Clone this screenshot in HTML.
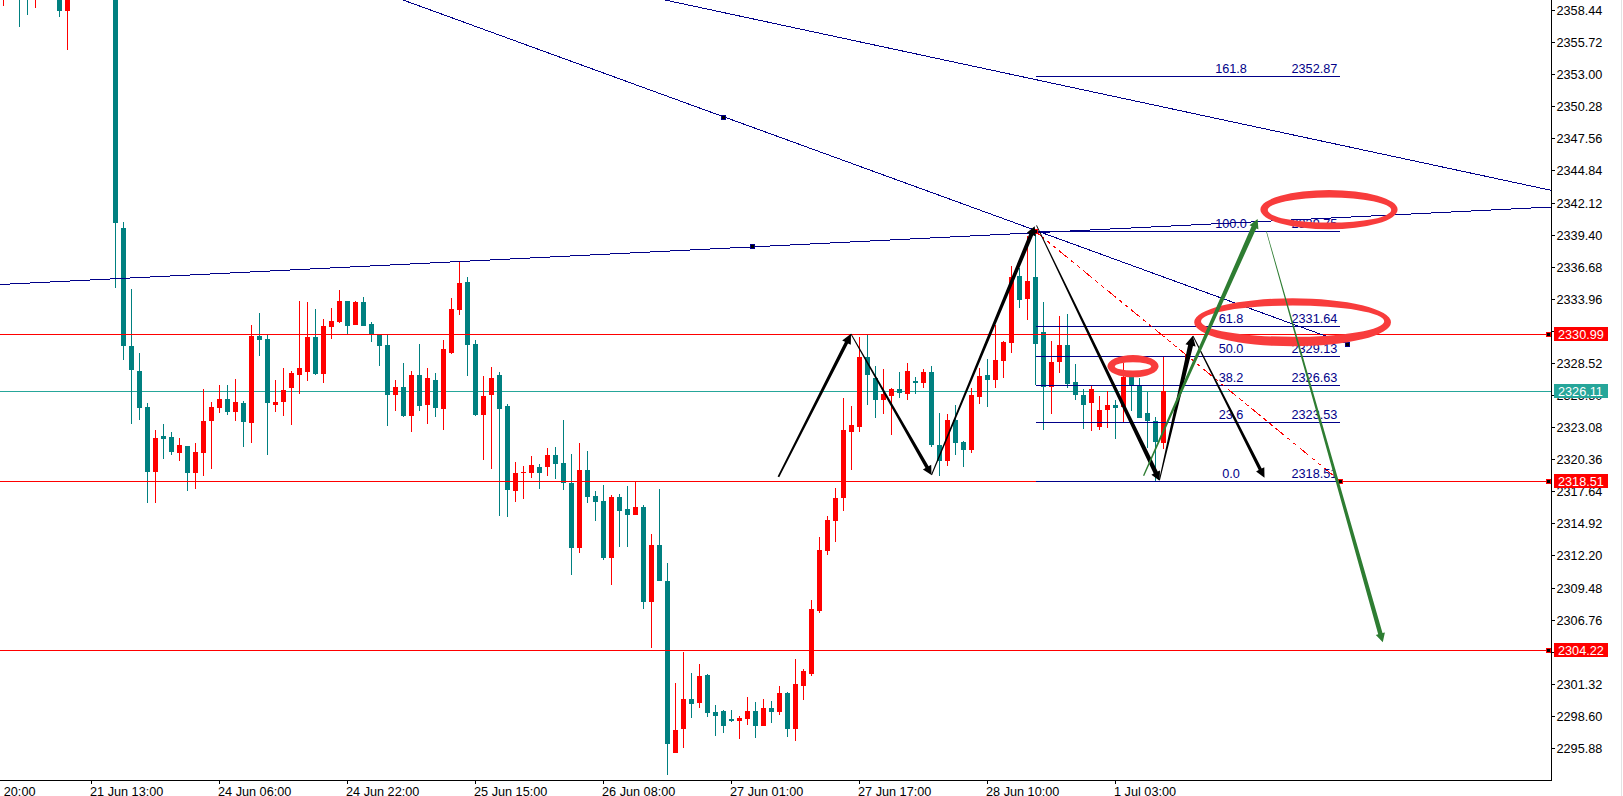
<!DOCTYPE html>
<html lang="en"><head><meta charset="utf-8"><title>Chart</title>
<style>html,body{margin:0;padding:0;background:#fff;overflow:hidden}svg{display:block}text{font-family:"Liberation Sans",Arial,sans-serif;font-size:12.7px}</style>
</head><body>
<svg width="1623" height="796" viewBox="0 0 1623 796">
<rect width="1623" height="796" fill="#fff"/>
<defs><clipPath id="plot"><rect x="0" y="0" width="1551" height="780"/></clipPath></defs>
<rect x="0" y="391" width="1551" height="1" fill="#26A69A" shape-rendering="crispEdges"/>
<g shape-rendering="crispEdges">
<rect x="3" y="-2" width="1" height="8" fill="#FF0000"/>
<rect x="19" y="-2" width="1" height="29" fill="#008080"/>
<rect x="27" y="-2" width="1" height="17" fill="#008080"/>
<rect x="35" y="-2" width="1" height="10" fill="#FF0000"/>
<rect x="59" y="-2" width="1" height="19" fill="#008080"/>
<rect x="57" y="-2" width="5" height="13" fill="#008080"/>
<rect x="67" y="-2" width="1" height="52" fill="#FF0000"/>
<rect x="65" y="-2" width="5" height="13" fill="#FF0000"/>
<rect x="115" y="-2" width="1" height="290" fill="#008080"/>
<rect x="113" y="-2" width="5" height="225" fill="#008080"/>
<rect x="123" y="222" width="1" height="138" fill="#008080"/>
<rect x="121" y="228" width="5" height="118" fill="#008080"/>
<rect x="131" y="289" width="1" height="135" fill="#008080"/>
<rect x="129" y="346" width="5" height="24" fill="#008080"/>
<rect x="139" y="353" width="1" height="67" fill="#008080"/>
<rect x="137" y="371" width="5" height="37" fill="#008080"/>
<rect x="147" y="403" width="1" height="100" fill="#008080"/>
<rect x="145" y="407" width="5" height="65" fill="#008080"/>
<rect x="155" y="430" width="1" height="73" fill="#FF0000"/>
<rect x="153" y="438" width="5" height="34" fill="#FF0000"/>
<rect x="163" y="424" width="1" height="35" fill="#008080"/>
<rect x="161" y="436" width="5" height="3" fill="#008080"/>
<rect x="171" y="432" width="1" height="23" fill="#008080"/>
<rect x="169" y="437" width="5" height="15" fill="#008080"/>
<rect x="179" y="438" width="1" height="23" fill="#FF0000"/>
<rect x="177" y="445" width="5" height="8" fill="#FF0000"/>
<rect x="187" y="446" width="1" height="45" fill="#008080"/>
<rect x="185" y="446" width="5" height="27" fill="#008080"/>
<rect x="195" y="443" width="1" height="46" fill="#FF0000"/>
<rect x="193" y="452" width="5" height="21" fill="#FF0000"/>
<rect x="203" y="389" width="1" height="87" fill="#FF0000"/>
<rect x="201" y="421" width="5" height="32" fill="#FF0000"/>
<rect x="211" y="402" width="1" height="67" fill="#FF0000"/>
<rect x="209" y="407" width="5" height="14" fill="#FF0000"/>
<rect x="219" y="385" width="1" height="28" fill="#FF0000"/>
<rect x="217" y="399" width="5" height="9" fill="#FF0000"/>
<rect x="227" y="385" width="1" height="30" fill="#008080"/>
<rect x="225" y="399" width="5" height="13" fill="#008080"/>
<rect x="235" y="379" width="1" height="42" fill="#FF0000"/>
<rect x="233" y="402" width="5" height="10" fill="#FF0000"/>
<rect x="243" y="401" width="1" height="46" fill="#008080"/>
<rect x="241" y="403" width="5" height="19" fill="#008080"/>
<rect x="251" y="325" width="1" height="118" fill="#FF0000"/>
<rect x="249" y="336" width="5" height="87" fill="#FF0000"/>
<rect x="259" y="313" width="1" height="43" fill="#008080"/>
<rect x="257" y="336" width="5" height="4" fill="#008080"/>
<rect x="267" y="335" width="1" height="120" fill="#008080"/>
<rect x="265" y="339" width="5" height="64" fill="#008080"/>
<rect x="275" y="380" width="1" height="32" fill="#FF0000"/>
<rect x="273" y="402" width="5" height="3" fill="#FF0000"/>
<rect x="283" y="368" width="1" height="48" fill="#FF0000"/>
<rect x="281" y="390" width="5" height="12" fill="#FF0000"/>
<rect x="291" y="371" width="1" height="54" fill="#FF0000"/>
<rect x="289" y="373" width="5" height="15" fill="#FF0000"/>
<rect x="299" y="301" width="1" height="93" fill="#FF0000"/>
<rect x="297" y="368" width="5" height="7" fill="#FF0000"/>
<rect x="307" y="302" width="1" height="79" fill="#FF0000"/>
<rect x="305" y="337" width="5" height="35" fill="#FF0000"/>
<rect x="315" y="309" width="1" height="66" fill="#008080"/>
<rect x="313" y="337" width="5" height="37" fill="#008080"/>
<rect x="323" y="319" width="1" height="64" fill="#FF0000"/>
<rect x="321" y="326" width="5" height="48" fill="#FF0000"/>
<rect x="331" y="308" width="1" height="31" fill="#FF0000"/>
<rect x="329" y="321" width="5" height="6" fill="#FF0000"/>
<rect x="339" y="290" width="1" height="33" fill="#FF0000"/>
<rect x="337" y="301" width="5" height="21" fill="#FF0000"/>
<rect x="347" y="301" width="1" height="33" fill="#008080"/>
<rect x="345" y="301" width="5" height="25" fill="#008080"/>
<rect x="355" y="301" width="1" height="24" fill="#FF0000"/>
<rect x="353" y="302" width="5" height="23" fill="#FF0000"/>
<rect x="363" y="297" width="1" height="29" fill="#008080"/>
<rect x="361" y="302" width="5" height="24" fill="#008080"/>
<rect x="371" y="322" width="1" height="20" fill="#008080"/>
<rect x="369" y="324" width="5" height="11" fill="#008080"/>
<rect x="379" y="335" width="1" height="31" fill="#008080"/>
<rect x="377" y="335" width="5" height="11" fill="#008080"/>
<rect x="387" y="335" width="1" height="91" fill="#008080"/>
<rect x="385" y="345" width="5" height="50" fill="#008080"/>
<rect x="395" y="380" width="1" height="31" fill="#FF0000"/>
<rect x="393" y="387" width="5" height="8" fill="#FF0000"/>
<rect x="403" y="363" width="1" height="54" fill="#008080"/>
<rect x="401" y="387" width="5" height="29" fill="#008080"/>
<rect x="411" y="371" width="1" height="61" fill="#FF0000"/>
<rect x="409" y="375" width="5" height="41" fill="#FF0000"/>
<rect x="419" y="344" width="1" height="67" fill="#008080"/>
<rect x="417" y="375" width="5" height="31" fill="#008080"/>
<rect x="427" y="368" width="1" height="56" fill="#FF0000"/>
<rect x="425" y="378" width="5" height="27" fill="#FF0000"/>
<rect x="435" y="373" width="1" height="44" fill="#008080"/>
<rect x="433" y="380" width="5" height="28" fill="#008080"/>
<rect x="443" y="340" width="1" height="90" fill="#FF0000"/>
<rect x="441" y="349" width="5" height="60" fill="#FF0000"/>
<rect x="451" y="298" width="1" height="56" fill="#FF0000"/>
<rect x="449" y="309" width="5" height="44" fill="#FF0000"/>
<rect x="459" y="262" width="1" height="53" fill="#FF0000"/>
<rect x="457" y="283" width="5" height="27" fill="#FF0000"/>
<rect x="467" y="277" width="1" height="99" fill="#008080"/>
<rect x="465" y="282" width="5" height="63" fill="#008080"/>
<rect x="475" y="340" width="1" height="76" fill="#008080"/>
<rect x="473" y="344" width="5" height="71" fill="#008080"/>
<rect x="483" y="376" width="1" height="84" fill="#FF0000"/>
<rect x="481" y="396" width="5" height="19" fill="#FF0000"/>
<rect x="491" y="367" width="1" height="102" fill="#FF0000"/>
<rect x="489" y="378" width="5" height="17" fill="#FF0000"/>
<rect x="499" y="372" width="1" height="144" fill="#008080"/>
<rect x="497" y="375" width="5" height="34" fill="#008080"/>
<rect x="507" y="404" width="1" height="113" fill="#008080"/>
<rect x="505" y="406" width="5" height="84" fill="#008080"/>
<rect x="515" y="462" width="1" height="40" fill="#FF0000"/>
<rect x="513" y="473" width="5" height="18" fill="#FF0000"/>
<rect x="523" y="466" width="1" height="33" fill="#FF0000"/>
<rect x="521" y="472" width="5" height="1" fill="#FF0000"/>
<rect x="531" y="456" width="1" height="22" fill="#FF0000"/>
<rect x="529" y="465" width="5" height="8" fill="#FF0000"/>
<rect x="539" y="464" width="1" height="25" fill="#008080"/>
<rect x="537" y="467" width="5" height="6" fill="#008080"/>
<rect x="547" y="448" width="1" height="28" fill="#FF0000"/>
<rect x="545" y="455" width="5" height="12" fill="#FF0000"/>
<rect x="555" y="447" width="1" height="32" fill="#008080"/>
<rect x="553" y="455" width="5" height="9" fill="#008080"/>
<rect x="563" y="420" width="1" height="70" fill="#008080"/>
<rect x="561" y="463" width="5" height="20" fill="#008080"/>
<rect x="571" y="454" width="1" height="121" fill="#008080"/>
<rect x="569" y="483" width="5" height="65" fill="#008080"/>
<rect x="579" y="443" width="1" height="110" fill="#FF0000"/>
<rect x="577" y="470" width="5" height="78" fill="#FF0000"/>
<rect x="587" y="451" width="1" height="52" fill="#008080"/>
<rect x="585" y="470" width="5" height="27" fill="#008080"/>
<rect x="595" y="491" width="1" height="30" fill="#008080"/>
<rect x="593" y="496" width="5" height="6" fill="#008080"/>
<rect x="603" y="485" width="1" height="75" fill="#008080"/>
<rect x="601" y="501" width="5" height="57" fill="#008080"/>
<rect x="611" y="495" width="1" height="90" fill="#FF0000"/>
<rect x="609" y="497" width="5" height="61" fill="#FF0000"/>
<rect x="619" y="494" width="1" height="53" fill="#008080"/>
<rect x="617" y="497" width="5" height="14" fill="#008080"/>
<rect x="627" y="486" width="1" height="61" fill="#008080"/>
<rect x="625" y="509" width="5" height="6" fill="#008080"/>
<rect x="635" y="481" width="1" height="34" fill="#FF0000"/>
<rect x="633" y="507" width="5" height="8" fill="#FF0000"/>
<rect x="643" y="505" width="1" height="104" fill="#008080"/>
<rect x="641" y="507" width="5" height="95" fill="#008080"/>
<rect x="651" y="534" width="1" height="114" fill="#FF0000"/>
<rect x="649" y="545" width="5" height="57" fill="#FF0000"/>
<rect x="659" y="489" width="1" height="92" fill="#008080"/>
<rect x="657" y="545" width="5" height="36" fill="#008080"/>
<rect x="667" y="563" width="1" height="212" fill="#008080"/>
<rect x="665" y="581" width="5" height="163" fill="#008080"/>
<rect x="675" y="683" width="1" height="70" fill="#FF0000"/>
<rect x="673" y="730" width="5" height="23" fill="#FF0000"/>
<rect x="683" y="652" width="1" height="96" fill="#FF0000"/>
<rect x="681" y="699" width="5" height="30" fill="#FF0000"/>
<rect x="691" y="673" width="1" height="45" fill="#008080"/>
<rect x="689" y="699" width="5" height="5" fill="#008080"/>
<rect x="699" y="664" width="1" height="44" fill="#FF0000"/>
<rect x="697" y="676" width="5" height="27" fill="#FF0000"/>
<rect x="707" y="674" width="1" height="43" fill="#008080"/>
<rect x="705" y="675" width="5" height="38" fill="#008080"/>
<rect x="715" y="705" width="1" height="31" fill="#008080"/>
<rect x="713" y="712" width="5" height="4" fill="#008080"/>
<rect x="723" y="710" width="1" height="23" fill="#008080"/>
<rect x="721" y="711" width="5" height="15" fill="#008080"/>
<rect x="731" y="710" width="1" height="12" fill="#008080"/>
<rect x="729" y="719" width="5" height="2" fill="#008080"/>
<rect x="739" y="716" width="1" height="23" fill="#FF0000"/>
<rect x="737" y="718" width="5" height="3" fill="#FF0000"/>
<rect x="747" y="697" width="1" height="28" fill="#FF0000"/>
<rect x="745" y="711" width="5" height="8" fill="#FF0000"/>
<rect x="755" y="702" width="1" height="36" fill="#008080"/>
<rect x="753" y="711" width="5" height="15" fill="#008080"/>
<rect x="763" y="699" width="1" height="27" fill="#FF0000"/>
<rect x="761" y="708" width="5" height="18" fill="#FF0000"/>
<rect x="771" y="701" width="1" height="22" fill="#008080"/>
<rect x="769" y="708" width="5" height="4" fill="#008080"/>
<rect x="779" y="686" width="1" height="29" fill="#FF0000"/>
<rect x="777" y="693" width="5" height="19" fill="#FF0000"/>
<rect x="787" y="692" width="1" height="45" fill="#008080"/>
<rect x="785" y="693" width="5" height="36" fill="#008080"/>
<rect x="795" y="659" width="1" height="82" fill="#FF0000"/>
<rect x="793" y="684" width="5" height="45" fill="#FF0000"/>
<rect x="803" y="669" width="1" height="31" fill="#FF0000"/>
<rect x="801" y="671" width="5" height="15" fill="#FF0000"/>
<rect x="811" y="600" width="1" height="76" fill="#FF0000"/>
<rect x="809" y="609" width="5" height="65" fill="#FF0000"/>
<rect x="819" y="537" width="1" height="76" fill="#FF0000"/>
<rect x="817" y="550" width="5" height="61" fill="#FF0000"/>
<rect x="827" y="516" width="1" height="39" fill="#FF0000"/>
<rect x="825" y="520" width="5" height="31" fill="#FF0000"/>
<rect x="835" y="488" width="1" height="54" fill="#FF0000"/>
<rect x="833" y="498" width="5" height="23" fill="#FF0000"/>
<rect x="843" y="398" width="1" height="113" fill="#FF0000"/>
<rect x="841" y="430" width="5" height="68" fill="#FF0000"/>
<rect x="851" y="406" width="1" height="64" fill="#FF0000"/>
<rect x="849" y="425" width="5" height="7" fill="#FF0000"/>
<rect x="859" y="337" width="1" height="95" fill="#FF0000"/>
<rect x="857" y="357" width="5" height="70" fill="#FF0000"/>
<rect x="867" y="335" width="1" height="70" fill="#008080"/>
<rect x="865" y="357" width="5" height="18" fill="#008080"/>
<rect x="875" y="366" width="1" height="52" fill="#008080"/>
<rect x="873" y="378" width="5" height="22" fill="#008080"/>
<rect x="883" y="369" width="1" height="45" fill="#FF0000"/>
<rect x="881" y="394" width="5" height="6" fill="#FF0000"/>
<rect x="891" y="388" width="1" height="47" fill="#FF0000"/>
<rect x="889" y="389" width="5" height="7" fill="#FF0000"/>
<rect x="899" y="372" width="1" height="26" fill="#008080"/>
<rect x="897" y="389" width="5" height="4" fill="#008080"/>
<rect x="907" y="363" width="1" height="37" fill="#FF0000"/>
<rect x="905" y="371" width="5" height="23" fill="#FF0000"/>
<rect x="915" y="377" width="1" height="17" fill="#008080"/>
<rect x="913" y="381" width="5" height="2" fill="#008080"/>
<rect x="923" y="369" width="1" height="19" fill="#FF0000"/>
<rect x="921" y="372" width="5" height="11" fill="#FF0000"/>
<rect x="931" y="366" width="1" height="81" fill="#008080"/>
<rect x="929" y="372" width="5" height="73" fill="#008080"/>
<rect x="939" y="413" width="1" height="63" fill="#008080"/>
<rect x="937" y="445" width="5" height="16" fill="#008080"/>
<rect x="947" y="414" width="1" height="52" fill="#FF0000"/>
<rect x="945" y="420" width="5" height="41" fill="#FF0000"/>
<rect x="955" y="405" width="1" height="50" fill="#008080"/>
<rect x="953" y="420" width="5" height="23" fill="#008080"/>
<rect x="963" y="441" width="1" height="26" fill="#008080"/>
<rect x="961" y="442" width="5" height="8" fill="#008080"/>
<rect x="971" y="388" width="1" height="65" fill="#FF0000"/>
<rect x="969" y="395" width="5" height="55" fill="#FF0000"/>
<rect x="979" y="368" width="1" height="36" fill="#FF0000"/>
<rect x="977" y="376" width="5" height="21" fill="#FF0000"/>
<rect x="987" y="359" width="1" height="48" fill="#008080"/>
<rect x="985" y="375" width="5" height="5" fill="#008080"/>
<rect x="995" y="325" width="1" height="63" fill="#FF0000"/>
<rect x="993" y="360" width="5" height="20" fill="#FF0000"/>
<rect x="1003" y="341" width="1" height="37" fill="#FF0000"/>
<rect x="1001" y="342" width="5" height="19" fill="#FF0000"/>
<rect x="1011" y="266" width="1" height="87" fill="#FF0000"/>
<rect x="1009" y="277" width="5" height="66" fill="#FF0000"/>
<rect x="1019" y="268" width="1" height="40" fill="#008080"/>
<rect x="1017" y="276" width="5" height="24" fill="#008080"/>
<rect x="1027" y="236" width="1" height="84" fill="#FF0000"/>
<rect x="1025" y="281" width="5" height="18" fill="#FF0000"/>
<rect x="1035" y="230" width="1" height="155" fill="#008080"/>
<rect x="1033" y="277" width="5" height="67" fill="#008080"/>
<rect x="1043" y="302" width="1" height="128" fill="#008080"/>
<rect x="1041" y="332" width="5" height="55" fill="#008080"/>
<rect x="1051" y="341" width="1" height="73" fill="#FF0000"/>
<rect x="1049" y="362" width="5" height="25" fill="#FF0000"/>
<rect x="1059" y="316" width="1" height="57" fill="#FF0000"/>
<rect x="1057" y="345" width="5" height="17" fill="#FF0000"/>
<rect x="1067" y="314" width="1" height="74" fill="#008080"/>
<rect x="1065" y="345" width="5" height="39" fill="#008080"/>
<rect x="1075" y="364" width="1" height="36" fill="#008080"/>
<rect x="1073" y="382" width="5" height="13" fill="#008080"/>
<rect x="1083" y="389" width="1" height="40" fill="#008080"/>
<rect x="1081" y="395" width="5" height="10" fill="#008080"/>
<rect x="1091" y="386" width="1" height="45" fill="#FF0000"/>
<rect x="1089" y="389" width="5" height="14" fill="#FF0000"/>
<rect x="1099" y="396" width="1" height="34" fill="#FF0000"/>
<rect x="1097" y="410" width="5" height="17" fill="#FF0000"/>
<rect x="1107" y="391" width="1" height="37" fill="#FF0000"/>
<rect x="1105" y="405" width="5" height="5" fill="#FF0000"/>
<rect x="1115" y="400" width="1" height="39" fill="#008080"/>
<rect x="1113" y="405" width="5" height="3" fill="#008080"/>
<rect x="1123" y="363" width="1" height="59" fill="#FF0000"/>
<rect x="1121" y="377" width="5" height="30" fill="#FF0000"/>
<rect x="1131" y="374" width="1" height="37" fill="#008080"/>
<rect x="1129" y="377" width="5" height="8" fill="#008080"/>
<rect x="1139" y="378" width="1" height="40" fill="#008080"/>
<rect x="1137" y="385" width="5" height="33" fill="#008080"/>
<rect x="1147" y="392" width="1" height="56" fill="#008080"/>
<rect x="1145" y="413" width="5" height="8" fill="#008080"/>
<rect x="1155" y="417" width="1" height="64" fill="#008080"/>
<rect x="1153" y="421" width="5" height="21" fill="#008080"/>
<rect x="1163" y="357" width="1" height="92" fill="#FF0000"/>
<rect x="1161" y="391" width="5" height="52" fill="#FF0000"/>
</g>
<g shape-rendering="crispEdges" clip-path="url(#plot)" fill="none" stroke-width="1">
<line x1="0" y1="334.5" x2="1551" y2="334.5" stroke="#FF0000"/>
<line x1="0" y1="481.5" x2="1551" y2="481.5" stroke="#FF0000"/>
<line x1="0" y1="650.5" x2="1551" y2="650.5" stroke="#FF0000"/>
<line x1="0" y1="284.5" x2="1551" y2="207" stroke="#000088"/>
<line x1="403" y1="0" x2="1347" y2="343.8" stroke="#000088"/>
<line x1="665" y1="0" x2="1551" y2="190.3" stroke="#000088"/>
<line x1="1036" y1="76.5" x2="1340" y2="76.5" stroke="#000088"/>
<line x1="1036" y1="231.5" x2="1340" y2="231.5" stroke="#000088"/>
<line x1="1036" y1="326.5" x2="1340" y2="326.5" stroke="#000088"/>
<line x1="1036" y1="356.5" x2="1340" y2="356.5" stroke="#000088"/>
<line x1="1036" y1="385.5" x2="1340" y2="385.5" stroke="#000088"/>
<line x1="1036" y1="422.5" x2="1340" y2="422.5" stroke="#000088"/>
<line x1="1036" y1="481.5" x2="1340" y2="481.5" stroke="#000088"/>
<line x1="1035" y1="231" x2="1340" y2="481" stroke="#FF0000" stroke-width="1" stroke-dasharray="11.6 3.9 3.9 3.9 3.9 3.9"/>
</g>
<g shape-rendering="crispEdges" fill="#000088">
<rect x="721" y="115" width="5" height="5"/><rect x="722" y="116" width="3" height="3" fill="#000"/>
<rect x="750" y="244" width="5" height="5"/><rect x="751" y="245" width="3" height="3" fill="#000"/>
<rect x="1345" y="342" width="5" height="5"/><rect x="1346" y="343" width="3" height="3" fill="#000"/>
<rect x="1033" y="229" width="5" height="5" fill="#FF0000"/><rect x="1034" y="230" width="3" height="3" fill="#000"/>
<rect x="1185" y="354" width="5" height="5" fill="#FF0000"/><rect x="1186" y="355" width="3" height="3" fill="#000"/>
</g>
<g fill="#000088">
<text x="1231" y="73" text-anchor="middle">161.8</text><text x="1291.5" y="73">2352.87</text>
<text x="1231" y="228" text-anchor="middle">100.0</text><text x="1291.5" y="228">2339.75</text>
<text x="1231" y="323" text-anchor="middle">61.8</text><text x="1291.5" y="323">2331.64</text>
<text x="1231" y="353" text-anchor="middle">50.0</text><text x="1291.5" y="353">2329.13</text>
<text x="1231" y="382" text-anchor="middle">38.2</text><text x="1291.5" y="382">2326.63</text>
<text x="1231" y="419" text-anchor="middle">23.6</text><text x="1291.5" y="419">2323.53</text>
<text x="1231" y="478" text-anchor="middle">0.0</text><text x="1291.5" y="478">2318.51</text>
</g>
<g shape-rendering="crispEdges" fill="#000">
<rect x="1551" y="0" width="1" height="781"/>
<rect x="0" y="780" width="1552" height="1"/>
<rect x="1552" y="10" width="3" height="1"/>
<rect x="1552" y="42" width="3" height="1"/>
<rect x="1552" y="74" width="3" height="1"/>
<rect x="1552" y="106" width="3" height="1"/>
<rect x="1552" y="138" width="3" height="1"/>
<rect x="1552" y="170" width="3" height="1"/>
<rect x="1552" y="203" width="3" height="1"/>
<rect x="1552" y="235" width="3" height="1"/>
<rect x="1552" y="267" width="3" height="1"/>
<rect x="1552" y="299" width="3" height="1"/>
<rect x="1552" y="331" width="3" height="1"/>
<rect x="1552" y="363" width="3" height="1"/>
<rect x="1552" y="395" width="3" height="1"/>
<rect x="1552" y="427" width="3" height="1"/>
<rect x="1552" y="459" width="3" height="1"/>
<rect x="1552" y="491" width="3" height="1"/>
<rect x="1552" y="523" width="3" height="1"/>
<rect x="1552" y="555" width="3" height="1"/>
<rect x="1552" y="588" width="3" height="1"/>
<rect x="1552" y="620" width="3" height="1"/>
<rect x="1552" y="652" width="3" height="1"/>
<rect x="1552" y="684" width="3" height="1"/>
<rect x="1552" y="716" width="3" height="1"/>
<rect x="1552" y="748" width="3" height="1"/>
<rect x="91" y="781" width="1" height="3"/>
<rect x="219" y="781" width="1" height="3"/>
<rect x="347" y="781" width="1" height="3"/>
<rect x="475" y="781" width="1" height="3"/>
<rect x="603" y="781" width="1" height="3"/>
<rect x="731" y="781" width="1" height="3"/>
<rect x="859" y="781" width="1" height="3"/>
<rect x="987" y="781" width="1" height="3"/>
<rect x="1115" y="781" width="1" height="3"/>
</g>
<g fill="#000">
<text x="1556.5" y="15">2358.44</text>
<text x="1556.5" y="47">2355.72</text>
<text x="1556.5" y="79">2353.00</text>
<text x="1556.5" y="111">2350.28</text>
<text x="1556.5" y="143">2347.56</text>
<text x="1556.5" y="175">2344.84</text>
<text x="1556.5" y="208">2342.12</text>
<text x="1556.5" y="240">2339.40</text>
<text x="1556.5" y="272">2336.68</text>
<text x="1556.5" y="304">2333.96</text>
<text x="1556.5" y="368">2328.52</text>
<text x="1556.5" y="400">2325.80</text>
<text x="1556.5" y="432">2323.08</text>
<text x="1556.5" y="464">2320.36</text>
<text x="1556.5" y="496">2317.64</text>
<text x="1556.5" y="528">2314.92</text>
<text x="1556.5" y="560">2312.20</text>
<text x="1556.5" y="593">2309.48</text>
<text x="1556.5" y="625">2306.76</text>
<text x="1556.5" y="657">2304.04</text>
<text x="1556.5" y="689">2301.32</text>
<text x="1556.5" y="721">2298.60</text>
<text x="1556.5" y="753">2295.88</text>
<text x="35.5" y="796" text-anchor="end">20:00</text>
<text x="90" y="796">21 Jun 13:00</text>
<text x="218" y="796">24 Jun 06:00</text>
<text x="346" y="796">24 Jun 22:00</text>
<text x="474" y="796">25 Jun 15:00</text>
<text x="602" y="796">26 Jun 08:00</text>
<text x="730" y="796">27 Jun 01:00</text>
<text x="858" y="796">27 Jun 17:00</text>
<text x="986" y="796">28 Jun 10:00</text>
<text x="1114" y="796">1 Jul 03:00</text>
</g>
<rect x="1554" y="327" width="54" height="14" fill="#FF0000" shape-rendering="crispEdges"/>
<text x="1558" y="339" fill="#fff">2330.99</text>
<rect x="1546" y="332" width="5" height="5" fill="#FF0000" shape-rendering="crispEdges"/><rect x="1547" y="333" width="3" height="3" fill="#000" shape-rendering="crispEdges"/>
<rect x="1554" y="384" width="54" height="14" fill="#26A69A" shape-rendering="crispEdges"/>
<text x="1558" y="396" fill="#fff">2326.11</text>
<rect x="1554" y="474" width="54" height="14" fill="#FF0000" shape-rendering="crispEdges"/>
<text x="1558" y="486" fill="#fff">2318.51</text>
<rect x="1546" y="479" width="5" height="5" fill="#FF0000" shape-rendering="crispEdges"/><rect x="1547" y="480" width="3" height="3" fill="#000" shape-rendering="crispEdges"/>
<rect x="1554" y="643" width="54" height="14" fill="#FF0000" shape-rendering="crispEdges"/>
<text x="1558" y="655" fill="#fff">2304.22</text>
<rect x="1546" y="648" width="5" height="5" fill="#FF0000" shape-rendering="crispEdges"/><rect x="1547" y="649" width="3" height="3" fill="#000" shape-rendering="crispEdges"/>
<rect x="1338" y="479" width="5" height="5" fill="#FF0000" shape-rendering="crispEdges"/><rect x="1339" y="480" width="3" height="3" fill="#000" shape-rendering="crispEdges"/>
<rect x="1621" y="0" width="1" height="796" fill="#e3e3e3" shape-rendering="crispEdges"/>
<g>
<path fill-rule="evenodd" fill="#F83C3C" d="M1260.4,209.6a68.6,19.7 0 1,0 137.2,0a68.6,19.7 0 1,0 -137.2,0z M1267.8,210.1a61.7,12.5 0 1,0 123.4,0a61.7,12.5 0 1,0 -123.4,0z"/>
<path fill-rule="evenodd" fill="#F83C3C" d="M1194.1999999999998,322.3a98.4,24 0 1,0 196.8,0a98.4,24 0 1,0 -196.8,0z M1201.0,321.2a91.6,15.6 0 1,0 183.2,0a91.6,15.6 0 1,0 -183.2,0z"/>
<path fill-rule="evenodd" fill="#F83C3C" d="M1107.4,366.2a25.6,11.1 0 1,0 51.2,0a25.6,11.1 0 1,0 -51.2,0z M1114.8,366.4a18.2,4.2 0 1,0 36.4,0a18.2,4.2 0 1,0 -36.4,0z"/>
<polygon points="779.2,477.2 848.0,343.4 850.8,344.8 851.0,333.7 842.2,340.4 845.0,341.8 777.6,476.4" fill="#000"/>
<polygon points="850.6,334.2 925.5,468.1 922.9,469.6 931.5,475.0 931.2,464.8 928.6,466.3 851.4,333.8" fill="#000"/>
<polygon points="932.0,475.2 1033.2,235.3 1035.7,236.4 1034.7,226.2 1026.8,232.7 1029.3,233.7 931.0,474.8" fill="#000"/>
<polygon points="1036.1,225.6 1153.7,473.5 1151.4,474.7 1159.6,480.7 1160.0,470.5 1157.7,471.6 1036.9,225.2" fill="#000"/>
<polygon points="1160.0,480.1 1193.0,346.0 1195.6,346.6 1192.8,335.7 1185.5,344.3 1188.1,344.9 1159.0,479.9" fill="#000"/>
<polygon points="1192.6,336.2 1258.7,470.1 1256.1,471.4 1264.5,477.8 1264.3,467.2 1261.7,468.6 1193.4,335.8" fill="#000"/>
<polygon points="1144.2,476.1 1256.3,228.4 1258.4,229.3 1257.6,219.1 1249.5,225.3 1251.6,226.3 1143.0,475.5" fill="#2E7D32"/>
<polygon points="1266.0,231.1 1378.2,634.2 1375.8,634.9 1382.8,642.3 1384.9,632.4 1382.5,633.0 1266.6,230.9" fill="#2E7D32"/>
</g>
</svg></body></html>
